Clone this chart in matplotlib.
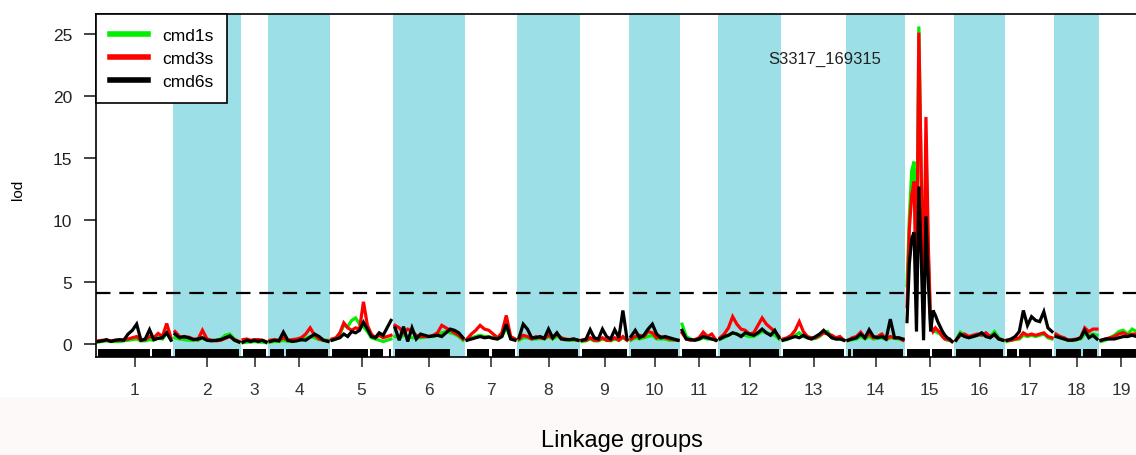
import numpy as np
import matplotlib
matplotlib.use("Agg")
from matplotlib import pyplot as plt
from matplotlib.patches import Rectangle

plt.rcParams['font.family'] = ['Liberation Sans', 'DejaVu Sans']

# linkage groups and their lengths (cM)
groups = [str(i) for i in range(1, 20)]
lengths = [73, 64, 23, 58, 59, 68, 48, 59, 45, 47, 34, 59, 61, 55, 45, 47, 45, 41, 40]
gap = 4

# lod profiles per linkage group (evenly spaced along each group)
cmd1s = [
    [0.15, 0.2, 0.25, 0.2, 0.2, 0.2, 0.25, 0.3, 0.35, 0.4, 0.25, 0.25, 0.35, 0.3, 0.5, 0.4, 0.9, 0.3],
    [0.5, 0.4, 0.35, 0.3, 0.3, 0.3, 0.5, 0.3, 0.3, 0.3, 0.4, 0.7, 0.8, 0.4, 0.2],
    [0.1, 0.15, 0.15, 0.2, 0.15, 0.15, 0.1],
    [0.15, 0.2, 0.2, 0.3, 0.2, 0.25, 0.3, 0.3, 0.45, 0.6, 0.5, 0.35, 0.3, 0.3],
    [0.3, 0.4, 0.8, 1.5, 1.4, 1.9, 2.1, 1.6, 1.4, 1.0, 0.5, 0.4, 0.3, 0.2, 0.3, 0.4],
    [0.6, 0.5, 0.7, 0.6, 0.5, 0.5, 0.5, 0.55, 0.6, 0.6, 0.7, 0.9, 1.0, 0.9, 0.8, 0.6, 0.3],
    [0.3, 0.5, 0.6, 0.7, 0.6, 0.6, 0.5, 0.4, 0.6, 1.3, 0.5, 0.4],
    [0.3, 0.5, 0.5, 0.4, 0.4, 0.45, 0.4, 0.6, 0.4, 0.6, 0.5, 0.35, 0.3, 0.3, 0.3],
    [0.2, 0.25, 0.4, 0.25, 0.25, 0.4, 0.3, 0.25, 0.4, 0.3, 0.5, 0.3],
    [0.3, 0.5, 0.4, 0.5, 0.6, 0.7, 0.4, 0.4, 0.4, 0.3, 0.3, 0.3],
    [1.6, 0.6, 0.4, 0.3, 0.35, 0.5, 0.4, 0.4, 0.3],
    [0.4, 0.5, 0.7, 0.9, 0.8, 0.7, 0.7, 0.6, 0.6, 0.8, 1.0, 0.9, 0.8, 0.7, 0.4],
    [0.3, 0.35, 0.5, 0.7, 0.9, 0.6, 0.5, 0.4, 0.45, 0.6, 0.9, 1.0, 0.5, 0.4, 0.4, 0.3],
    [0.3, 0.35, 0.4, 0.6, 0.4, 0.6, 0.4, 0.45, 0.5, 0.35, 0.5, 0.45, 0.4, 0.3],
    [4.7, 10.3, 14.0, 14.7, 5.0, 25.6, 13.5, 2.5, 16.0, 7.0, 1.3, 1.2, 1.0, 0.9, 0.8, 0.6, 0.4, 0.3, 0.3, 0.2],
    [0.3, 0.95, 0.7, 0.6, 0.6, 0.7, 0.8, 0.7, 0.6, 1.0, 0.5, 0.3],
    [0.2, 0.3, 0.35, 0.4, 0.7, 0.6, 0.7, 0.6, 0.7, 0.8, 0.5, 0.4],
    [0.7, 0.5, 0.4, 0.3, 0.3, 0.35, 0.4, 0.8, 0.7, 0.8, 0.7],
    [0.2, 0.3, 0.5, 0.7, 1.0, 1.1, 0.8, 1.2, 1.0, 0.7],
]
cmd3s = [
    [0.25, 0.3, 0.3, 0.25, 0.3, 0.3, 0.35, 0.4, 0.5, 0.6, 0.3, 0.35, 0.6, 0.5, 0.85, 0.6, 1.65, 0.5],
    [1.0, 0.6, 0.55, 0.55, 0.4, 0.35, 1.1, 0.4, 0.3, 0.25, 0.3, 0.45, 0.6, 0.35, 0.2],
    [0.35, 0.4, 0.3, 0.35, 0.35, 0.3, 0.2],
    [0.3, 0.35, 0.3, 0.5, 0.3, 0.35, 0.4, 0.5, 0.8, 1.3, 0.7, 0.4, 0.3, 0.25],
    [0.4, 0.5, 0.9, 1.7, 1.3, 1.1, 1.3, 1.2, 3.4, 1.5, 0.8, 0.5, 0.7, 0.5, 0.6, 0.7],
    [1.5, 1.3, 0.9, 1.2, 1.0, 0.7, 0.6, 0.6, 0.6, 0.7, 0.9, 1.5, 1.3, 1.1, 0.9, 0.7, 0.4],
    [0.4, 0.8, 1.1, 1.5, 1.2, 1.1, 0.8, 0.5, 0.9, 2.3, 0.6, 0.4],
    [0.4, 0.7, 0.6, 0.4, 0.6, 0.5, 0.45, 0.7, 0.5, 0.8, 0.5, 0.4, 0.35, 0.4, 0.3],
    [0.3, 0.3, 0.5, 0.3, 0.3, 0.5, 0.3, 0.3, 0.5, 0.3, 0.6, 0.3],
    [0.4, 0.6, 0.7, 0.6, 1.0, 0.9, 0.5, 0.6, 0.5, 0.4, 0.35, 0.3],
    [0.9, 0.4, 0.3, 0.35, 0.5, 0.95, 0.6, 0.8, 0.3],
    [0.5, 0.8, 1.3, 2.2, 1.6, 1.2, 1.1, 0.8, 0.9, 1.5, 2.1, 1.6, 1.3, 1.0, 0.6],
    [0.4, 0.5, 0.7, 1.1, 1.8, 1.0, 0.6, 0.5, 0.5, 0.7, 0.9, 0.8, 0.7, 0.5, 0.6, 0.3],
    [0.3, 0.5, 0.6, 0.95, 0.5, 0.8, 0.5, 0.6, 0.8, 0.4, 0.6, 0.5, 0.5, 0.3],
    [3.0, 9.3, 12.0, 13.1, 3.0, 25.1, 14.0, 2.0, 18.3, 8.0, 1.5, 1.0, 1.3, 1.1, 0.9, 0.6, 0.4, 0.4, 0.3, 0.2],
    [0.3, 0.7, 0.8, 0.6, 0.7, 0.8, 0.7, 0.9, 0.6, 0.7, 0.4, 0.3],
    [0.3, 0.3, 0.4, 0.5, 0.9, 0.7, 0.8, 0.7, 0.8, 0.9, 0.6, 0.5],
    [0.8, 0.6, 0.5, 0.3, 0.35, 0.4, 0.5, 1.3, 1.0, 1.2, 1.2],
    [0.3, 0.4, 0.5, 0.6, 0.8, 0.9, 0.7, 0.8, 0.8, 0.6],
]
cmd6s = [
    [0.2, 0.25, 0.35, 0.2, 0.3, 0.35, 0.3, 0.8, 1.1, 1.6, 0.3, 0.4, 1.15, 0.35, 0.45, 0.5, 0.9, 0.3],
    [0.8, 0.5, 0.6, 0.5, 0.35, 0.4, 0.5, 0.3, 0.25, 0.3, 0.35, 0.5, 0.65, 0.3, 0.15],
    [0.15, 0.3, 0.2, 0.3, 0.2, 0.3, 0.15],
    [0.2, 0.3, 0.25, 0.95, 0.3, 0.2, 0.25, 0.35, 0.3, 0.55, 0.8, 0.6, 0.3, 0.2],
    [0.3, 0.4, 0.5, 0.8, 0.6, 1.0, 0.9, 1.1, 1.75, 1.2, 0.6, 0.5, 0.9, 0.7, 1.3, 1.9],
    [1.3, 0.3, 1.4, 0.2, 1.3, 0.4, 0.8, 0.7, 0.6, 0.65, 0.7, 0.6, 0.9, 1.2, 1.1, 0.9, 0.5],
    [0.3, 0.4, 0.5, 0.6, 0.5, 0.55, 0.45, 0.4, 0.6, 1.6, 0.4, 0.3],
    [0.5, 1.6, 1.2, 0.5, 0.5, 0.6, 0.45, 1.2, 0.5, 0.9, 0.4, 0.35, 0.35, 0.4, 0.3],
    [0.3, 0.4, 1.15, 0.5, 0.4, 1.2, 0.6, 0.4, 1.15, 0.5, 2.7, 0.4],
    [0.6, 1.1, 0.5, 0.7, 1.2, 1.6, 0.8, 0.5, 0.6, 0.5, 0.4, 0.3],
    [1.1, 0.4, 0.35, 0.3, 0.4, 0.6, 0.5, 0.4, 0.3],
    [0.4, 0.6, 0.7, 0.9, 0.8, 0.6, 0.9, 0.8, 0.7, 0.9, 1.2, 0.9, 0.7, 1.1, 0.5],
    [0.3, 0.4, 0.5, 0.6, 0.5, 0.7, 0.5, 0.4, 0.6, 0.8, 1.1, 0.8, 0.5, 0.4, 0.4, 0.3],
    [0.3, 0.4, 0.5, 0.8, 0.5, 1.15, 0.6, 0.5, 0.6, 0.4, 2.0, 0.5, 0.5, 0.4],
    [1.8, 6.5, 8.5, 9.0, 1.0, 12.7, 7.0, 0.3, 10.3, 5.0, 1.0, 2.7, 2.3, 1.8, 1.4, 1.0, 0.7, 0.5, 0.4, 0.2],
    [0.3, 0.8, 0.6, 0.5, 0.6, 0.7, 0.9, 0.6, 0.5, 0.8, 0.4, 0.3],
    [0.3, 0.4, 0.6, 1.0, 2.7, 1.5, 2.2, 1.9, 1.8, 2.6, 1.3, 1.0],
    [0.6, 0.5, 0.4, 0.3, 0.3, 0.35, 0.5, 1.1, 0.5, 0.7, 0.4],
    [0.3, 0.4, 0.4, 0.4, 0.5, 0.6, 0.6, 0.7, 0.6, 0.5],
]
# gaps in the marker rug: group index -> (start within group, width)
rug_gaps = {0: [(52, 2)], 3: [(14, 2)], 4: [(36, 2), (51, 6)], 5: [(55, 13)],
            6: [(22, 3)], 13: [(3, 2)], 14: [(23, 2)], 16: [(10, 1.5)], 17: [(25, 2)]}
threshold = 4.1
peak_marker = "S3317_169315"

starts = []
pos = 0
for L in lengths:
    starts.append(pos + gap / 2)
    pos += L + gap
total = pos

fig = plt.figure(figsize=(11.36, 4.56), dpi=100)
ax = fig.add_axes([96 / 1136, 98 / 456, total / 1136, 343 / 456])

# alternating bands
for i in range(len(lengths)):
    if i % 2 == 1:
        ax.axvspan(starts[i] - gap / 2, starts[i] + lengths[i] + gap / 2, color='#9ddfe6', lw=0, zorder=0)

colors = ['#00ee00', '#ff0000', '#000000']
names = ['cmd1s', 'cmd3s', 'cmd6s']
for s, series in enumerate([cmd1s, cmd3s, cmd6s]):
    for i, vals in enumerate(series):
        x = starts[i] + np.linspace(0, lengths[i], len(vals))
        ax.plot(x, vals, color=colors[s], lw=2.3, solid_joinstyle='miter',
                label=names[s] if i == 0 else None, zorder=2 + s)

# marker rug
for i, L in enumerate(lengths):
    segs = []
    a = 0
    for g0, gw in rug_gaps.get(i, []):
        segs.append((starts[i] + a, g0 - a))
        a = g0 + gw
    if a < L:
        segs.append((starts[i] + a, L - a))
    ax.broken_barh(segs, (-1.05, 0.62), facecolors='black', zorder=5)

ax.axhline(threshold, color='black', lw=1.6, ls=(0, (6.5, 4)), zorder=6)
ax.text(starts[14] - 82, 23.0, peak_marker, fontsize=12, ha='center', va='center', color='#222222')

ax.set_xlim(0, total)
ax.set_ylim(-1.05, 26.6)
ax.set_yticks([0, 5, 10, 15, 20, 25])
ax.set_xticks([starts[i] + lengths[i] / 2 for i in range(len(lengths))])
ax.set_xticklabels(groups)
ax.tick_params(axis='y', length=9, width=1.2, pad=8, labelsize=12.5, colors='#222222')
ax.tick_params(axis='x', length=7, width=1.2, pad=11, labelsize=12.5, colors='#333333')
for sp in ['left', 'top', 'bottom']:
    ax.spines[sp].set_linewidth(1.2)
ax.spines['right'].set_visible(False)

leg = ax.legend(loc='upper left', bbox_to_anchor=(0, 1), borderaxespad=0, fontsize=12.5,
                fancybox=False, framealpha=1, edgecolor='black', handlelength=2.2,
                handletextpad=0.8, labelspacing=0.45, borderpad=0.8)
leg.get_frame().set_linewidth(1.2)
for h in leg.get_lines():
    h.set_linewidth(4)

fig.text(18 / 1136, 1 - 190 / 456, 'lod', rotation=90, ha='center', va='center', fontsize=11)

# faded strip at the bottom
fig.patches.append(Rectangle((0, 0), 1, 58 / 456, transform=fig.transFigure,
                             facecolor='#fdf9f8', edgecolor='none', zorder=-1))
fig.text(622 / 1136, 1 - 441 / 456, 'Linkage groups', ha='center', va='center', fontsize=17)

fig.savefig('out.png', dpi=100)
